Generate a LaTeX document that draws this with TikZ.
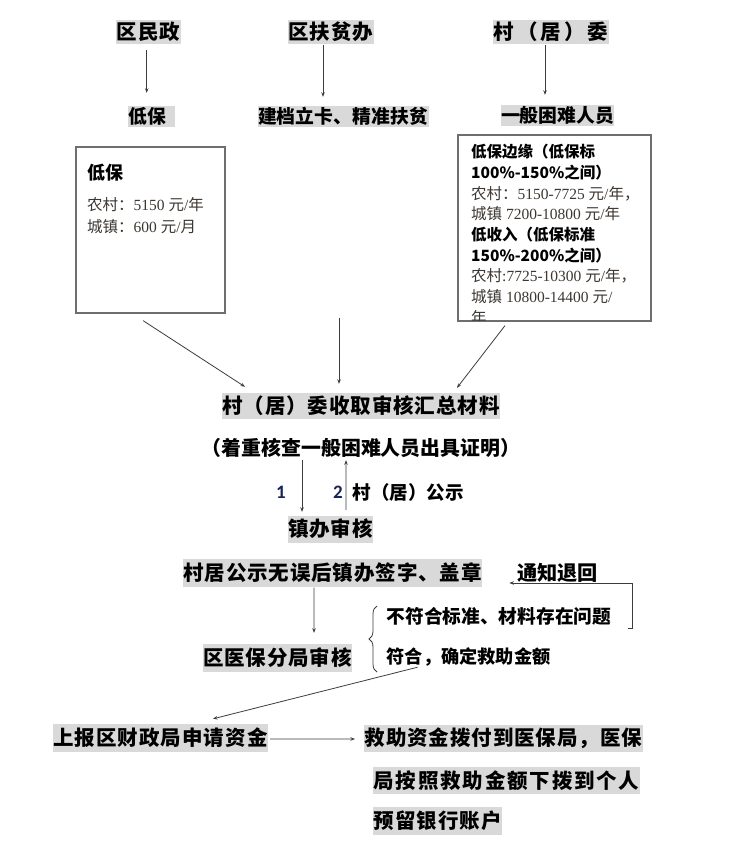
\documentclass[tikz,border=0pt]{standalone}
\usepackage{fontspec}
\setmainfont{Liberation Serif}
\newfontfamily\hei{Noto Sans CJK SC}
\newfontfamily\cjk{Noto Sans CJK SC}
\newfontfamily\calfnt{Carlito}
\usetikzlibrary{arrows.meta,calc,decorations.pathreplacing}
\definecolor{bgc}{RGB}{217,217,217}
\definecolor{arrc}{RGB}{60,60,60}
\definecolor{boxc}{RGB}{110,110,110}
\definecolor{bodyc}{RGB}{60,55,50}
\definecolor{navy}{RGB}{25,35,85}
\makeatletter
\def\lsp#1#2{\def\lsp@amt{#1}\lsp@aux#2\lsp@end}
\def\lsp@end{\lsp@end}
\def\lsp@aux#1{\ifx#1\lsp@end\else#1\hspace{\lsp@amt bp}\expandafter\lsp@aux\fi}
\makeatother
\newcommand\nm[1]{{\rmfamily #1}}
\tikzset{
  gbox/.style={fill=bgc, inner xsep=0.5bp, inner ysep=0bp, minimum height=26bp,
    font=\hei\bfseries\fontsize{20.5bp}{22bp}\selectfont},
  sbox/.style={fill=bgc, inner xsep=0.5bp, inner ysep=0bp, minimum height=21bp,
    font=\hei\bfseries\fontsize{18.8bp}{20bp}\selectfont},
  ptxt/.style={inner xsep=0.5bp, inner ysep=0bp, minimum height=24bp,
    font=\hei\bfseries\fontsize{20.5bp}{22bp}\selectfont},
  numlbl/.style={inner sep=0bp, text=navy, font=\calfnt\bfseries\fontsize{19bp}{20bp}\selectfont},
  infobox/.style={draw=boxc, line width=1.2bp, fill=white},
  btxt/.style={inner sep=0bp, anchor=west, text=black, font=\hei\bfseries\fontsize{15.5bp}{17bp}\selectfont},
  ntxt/.style={inner sep=0bp, anchor=west, text=bodyc, font=\cjk\fontsize{15.5bp}{17bp}\selectfont},
  arr/.style={draw=arrc, line width=0.8bp, -{Stealth[length=4.5bp,width=3.5bp]}},
  ln/.style={draw=arrc, line width=0.8bp}
}
\begin{document}
\begin{tikzpicture}[x=1bp,y=-1bp]
\useasboundingbox (0,0) rectangle (729,856);

% top row
\node[gbox, minimum height=24bp] (a1) at (148.5,32) {\lsp{1.2}{区民政}};
\node[gbox, minimum height=24bp] (a2) at (331,32) {\lsp{1.0}{区扶贫办}};
\node[gbox, minimum height=24bp] (a3) at (551,32) {\lsp{3.1}{村（居）委}};
% second row
\node[sbox, minimum width=47bp, text width=46bp, align=left] (b1) at (151.5,116) {低保};
\node[sbox] (b2) at (343,116) {\lsp{0.1}{建档立卡、精准扶贫}};
\node[sbox] (b3) at (557.5,115) {一般困难人员};

\draw[arr] ($(a1.south)+(-1.8,6)$) -- ($(b1.north)+(-4.8,-12.5)$);
\draw[arr] ($(a2.south)+(-8,1)$) -- ($(b2.north)+(-20,-8.5)$);
\draw[arr] ($(a3.south)+(-6,1)$) -- ($(b3.north)+(-12.5,-9.5)$);

% left info box
\node[infobox, minimum width=149bp, minimum height=166bp, inner sep=0] (L) at (150.5,230) {};
\node[btxt, font=\hei\bfseries\fontsize{18bp}{19bp}\selectfont] (L1) at (87,173) {低保};
\node[ntxt] (L2) at (87,205) {农村：\nm{5150 }元\nm{/}年};
\node[ntxt] (L3) at (87,227) {城镇：\nm{600 }元\nm{/}月};

% right info box
\node[infobox, minimum width=193bp, minimum height=186bp, inner sep=0] (R) at (554.5,228) {};
\begin{scope}
\clip (R.south west) rectangle (R.north east);
\node[btxt] (R1) at (471,152) {低保边缘（低保标};
\node[btxt] (R2) at (471,172.5) {100\%-150\%之间）};
\node[ntxt] (R3) at (471,193.5) {农村：\nm{5150-7725 }元\nm{/}年，};
\node[ntxt] (R4) at (471,214) {城镇\nm{ 7200-10800 }元\nm{/}年};
\node[btxt] (R5) at (471,234.5) {低收入（低保标准};
\node[btxt] (R6) at (471,255.5) {150\%-200\%之间）};
\node[ntxt] (R7) at (471,276) {农村\nm{:7725-10300 }元\nm{/}年，};
\node[ntxt] (R8) at (471,297) {城镇\nm{ 10800-14400 }元\nm{/}};
\node[ntxt] (R9) at (471,318) {年};
\end{scope}
\draw[draw=boxc, line width=1.2bp] (R.south west) rectangle (R.north east);

% main collection node
\node[gbox] (m) at (361,405.5) {\lsp{0.9}{村（居）委收取审核汇总材料}};
\node[ptxt, font=\hei\bfseries\fontsize{19.9bp}{22bp}\selectfont] (m2) at (361,448) {（着重核查一般困难人员出具证明）};
\coordinate (midtop) at (339,318);
\draw[arr] ($(L.south)+(-7.5,7)$) -- ($(m.north)+(-116,-5.5)$);
\draw[arr] (midtop) -- ($(m.north)+(-22,-8.5)$);
\draw[arr] ($(R.south)+(-49.5,4)$) -- ($(m.north)+(96,-4.5)$);

% town review
\node[gbox, minimum height=27bp] (z) at (330.5,529) {\lsp{0.75}{镇办审核}};
\draw[arr] ($(m2.south)+(-59,0)$) -- ($(z.north)+(-28.5,-3.5)$);
\draw[arr] ($(z.north)+(15.5,-5.5)$) -- ($(m2.south)+(-15,0)$);
\node[numlbl] (n1) at (281,492) {1};
\node[numlbl] (n2) at (338,492) {2};
\node[ptxt, anchor=west, font=\hei\bfseries\fontsize{18.5bp}{20bp}\selectfont] (gs0) at (352,492) {村（居）公示};

% sign and stamp
\node[gbox, minimum height=28bp] (gs) at (332.5,572.5) {\lsp{0.86}{村居公示无误后镇办签字、盖章}};
\node[ptxt, font=\hei\bfseries\fontsize{20.2bp}{22bp}\selectfont] (tz) at (557.5,573) {通知退回};
\node[gbox, minimum height=28bp] (yb) at (277.5,657.5) {\lsp{0.8}{区医保分局审核}};
\draw[arr] ($(gs.south)+(-18.5,1)$) -- ($(yb.north)+(36.5,-10.5)$);

\node[ptxt, anchor=west, font=\hei\bfseries\fontsize{18.7bp}{20bp}\selectfont] (bu) at (386,616) {不符合标准、材料存在问题};
\node[ptxt, anchor=west, font=\hei\bfseries\fontsize{18.2bp}{20bp}\selectfont] (fh) at (386,657) {符合，确定救助金额};
\draw[ln, decorate, decoration={brace, amplitude=8bp}] (377,672) -- (377,606);
\coordinate (rt) at ($(bu.east)+(16,12)$);
\draw[arr] (rt) -- ++(5,0) -- ++(0,-45) -- ($(tz.west)+(-7,10)$);

% finance
\node[gbox, minimum height=28bp] (sb) at (160.5,738) {\lsp{1.0}{上报区财政局申请资金}};
\draw[arr] ($(fh.south)+(-51,-2)$) -- ($(sb.north)+(52.5,-5)$);
\node[gbox, minimum height=27bp, anchor=west] (j1) at (364,738.5) {\lsp{0.9}{救助资金拨付到医保局，医保}};
\node[gbox, minimum height=27bp, anchor=west] (j2) at (373,780.5) {\lsp{1.8}{局按照救助金额下拨到个人}};
\node[gbox, minimum height=28bp, anchor=west] (j3) at (373,821) {\lsp{1.0}{预留银行账户}};
\draw[arr] ($(sb.east)+(2,1)$) -- ($(j1.west)+(-9,0.5)$);
\end{tikzpicture}
\end{document}
